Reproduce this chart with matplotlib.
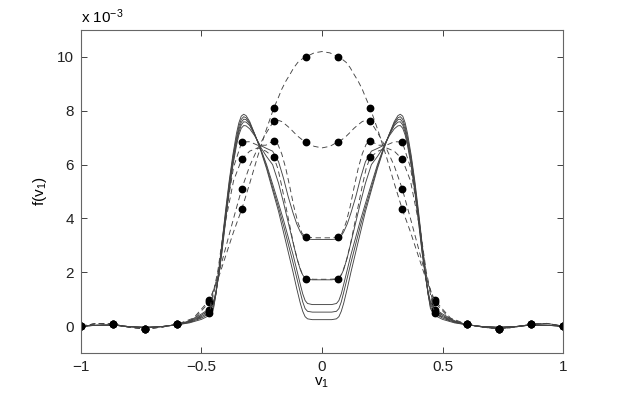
import numpy as np
import matplotlib
matplotlib.use("Agg")
import matplotlib.pyplot as plt

plt.rcParams['font.family'] = ['Liberation Sans', 'DejaVu Sans']
plt.rcParams['mathtext.fontset'] = 'custom'
plt.rcParams['mathtext.rm'] = 'Liberation Sans'
plt.rcParams['mathtext.it'] = 'Liberation Sans:italic'

# ---- data (values in units of 1e-3), left half, mirrored about v1 = 0 ----
x_solid = [-1, -0.933, -0.867, -0.8, -0.733, -0.667, -0.6, -0.55, -0.5, -0.467,
           -0.45, -0.44, -0.43, -0.415, -0.4, -0.385, -0.37, -0.355, -0.345,
           -0.335, -0.325, -0.315, -0.3, -0.28, -0.257, -0.23, -0.205, -0.18,
           -0.16, -0.14, -0.12, -0.105, -0.09, -0.08, -0.07, -0.06, -0.04, 0]

solid_1 = [0.0, 0.03, 0.04, -0.02, -0.05, -0.02, 0.05, 0.2, 0.45, 0.65,
           0.9, 1.3, 1.8, 2.75, 3.9, 5.0, 5.95, 6.7, 7.1,
           7.35, 7.45, 7.44, 7.33, 7.08, 6.72, 6.6, 6.5, 6.1,
           5.5, 4.8, 4.2, 3.8, 3.5, 3.35, 3.26, 3.23, 3.22, 3.22]
solid_2 = [0.0, 0.03, 0.04, -0.02, -0.05, -0.02, 0.05, 0.18, 0.4, 0.6,
           0.85, 1.25, 1.8, 2.8, 4.0, 5.1, 6.05, 6.8, 7.2,
           7.47, 7.59, 7.58, 7.45, 7.12, 6.68, 6.3, 6.0, 5.3,
           4.6, 3.85, 3.1, 2.55, 2.1, 1.9, 1.78, 1.74, 1.72, 1.72]
solid_3 = [0.0, 0.03, 0.04, -0.02, -0.05, -0.02, 0.05, 0.16, 0.35, 0.53,
           0.8, 1.2, 1.85, 2.9, 4.1, 5.2, 6.15, 6.9, 7.3,
           7.57, 7.69, 7.67, 7.5, 7.13, 6.65, 6.0, 5.28, 4.55,
           3.95, 3.3, 2.65, 2.1, 1.55, 1.2, 0.95, 0.84, 0.8, 0.8]
solid_4 = [0.0, 0.03, 0.04, -0.02, -0.05, -0.02, 0.05, 0.14, 0.3, 0.47,
           0.72, 1.2, 1.9, 3.0, 4.2, 5.3, 6.25, 7.0, 7.42,
           7.68, 7.78, 7.74, 7.55, 7.15, 6.63, 5.92, 5.15, 4.4,
           3.75, 3.05, 2.35, 1.8, 1.25, 0.9, 0.65, 0.55, 0.52, 0.52]
solid_5 = [0.0, 0.03, 0.04, -0.02, -0.05, -0.02, 0.05, 0.12, 0.25, 0.4,
           0.65, 1.2, 1.95, 3.1, 4.3, 5.4, 6.35, 7.15, 7.55,
           7.8, 7.87, 7.82, 7.6, 7.15, 6.6, 5.85, 5.05, 4.25,
           3.5, 2.75, 2.0, 1.4, 0.85, 0.55, 0.35, 0.27, 0.24, 0.24]

x_dashed = [-1, -0.933, -0.867, -0.8, -0.733, -0.667, -0.6, -0.533, -0.467,
            -0.433, -0.4, -0.367, -0.333, -0.3, -0.267, -0.233, -0.2, -0.183,
            -0.167, -0.15, -0.133, -0.117, -0.1, -0.083, -0.067, -0.033, 0]

dashed_1 = [0.0, 0.1, 0.07, -0.04, -0.1, -0.04, 0.07, 0.3, 0.97,
            1.7, 2.6, 3.5, 4.34, 5.3, 6.3, 7.25, 8.1, 8.45,
            8.8, 9.1, 9.35, 9.6, 9.8, 9.92, 10.0, 10.15, 10.2]
dashed_2 = [0.0, 0.1, 0.07, -0.04, -0.1, -0.04, 0.07, 0.25, 0.89,
            1.8, 2.9, 4.0, 5.1, 5.95, 6.6, 7.15, 7.62, 7.65,
            7.6, 7.48, 7.35, 7.2, 7.05, 6.93, 6.85, 6.68, 6.62]
dashed_3 = [0.0, 0.1, 0.07, -0.04, -0.1, -0.04, 0.07, 0.2, 0.6,
            2.0, 4.1, 5.9, 6.84, 6.85, 6.72, 6.72, 6.89, 6.75,
            6.4, 5.85, 5.15, 4.45, 3.85, 3.45, 3.31, 3.28, 3.28]
dashed_4 = [0.0, 0.1, 0.07, -0.04, -0.1, -0.04, 0.07, 0.18, 0.48,
            1.9, 3.9, 5.4, 6.2, 6.5, 6.62, 6.5, 6.27, 5.85,
            5.2, 4.45, 3.7, 3.0, 2.4, 1.95, 1.76, 1.74, 1.74]

x_ticks = [-1, -0.5, 0, 0.5, 1]
y_ticks = [0, 2, 4, 6, 8, 10]


def mirror(xs, ys):
    xs = np.asarray(xs, float)
    ys = np.asarray(ys, float)
    return np.concatenate([xs, -xs[-2::-1]]), np.concatenate([ys, ys[-2::-1]])


fig = plt.figure(figsize=(6.23, 3.98), dpi=100)
ax = fig.add_axes([0.130, 0.113, 0.7737, 0.8116])

for ys in [solid_1, solid_2, solid_3, solid_4, solid_5]:
    xx, yy = mirror(x_solid, ys)
    ax.plot(xx, yy, '-', color='#444444', lw=0.65)

for ys in [dashed_1, dashed_2, dashed_3, dashed_4]:
    xx, yy = mirror(x_dashed, ys)
    k = xx * 15
    nodes = np.isclose(k, np.round(k), atol=0.05) & (np.abs(np.round(k)) % 2 == 1)
    ax.plot(xx, yy, '--', color='#444444', lw=0.65, dashes=(6, 4))
    ax.plot(xx[nodes], yy[nodes], 'o', color='k', ms=4.6, mec='k')

ax.set_xlim(-1, 1)
ax.set_ylim(-1, 11)
ax.set_xticks(x_ticks)
ax.set_xticklabels(['\u22121', '\u22120.5', '0', '0.5', '1'])
ax.set_yticks(y_ticks)
ax.set_yticklabels([str(v) for v in y_ticks])
ax.tick_params(direction='in', top=True, right=True, length=4, width=0.6,
               labelsize=11, colors='#222222', pad=5)
for s in ax.spines.values():
    s.set_linewidth(0.8)
    s.set_color('#666666')

ax.text(0.0, 1.012, 'x 10$^{-3}$', transform=ax.transAxes, ha='left', va='bottom', fontsize=11)
ax.set_xlabel('v$_1$', fontsize=11, labelpad=1)
ax.set_ylabel('f(v$_1$)', fontsize=11, labelpad=6)

fig.savefig('out.png', dpi=100)
